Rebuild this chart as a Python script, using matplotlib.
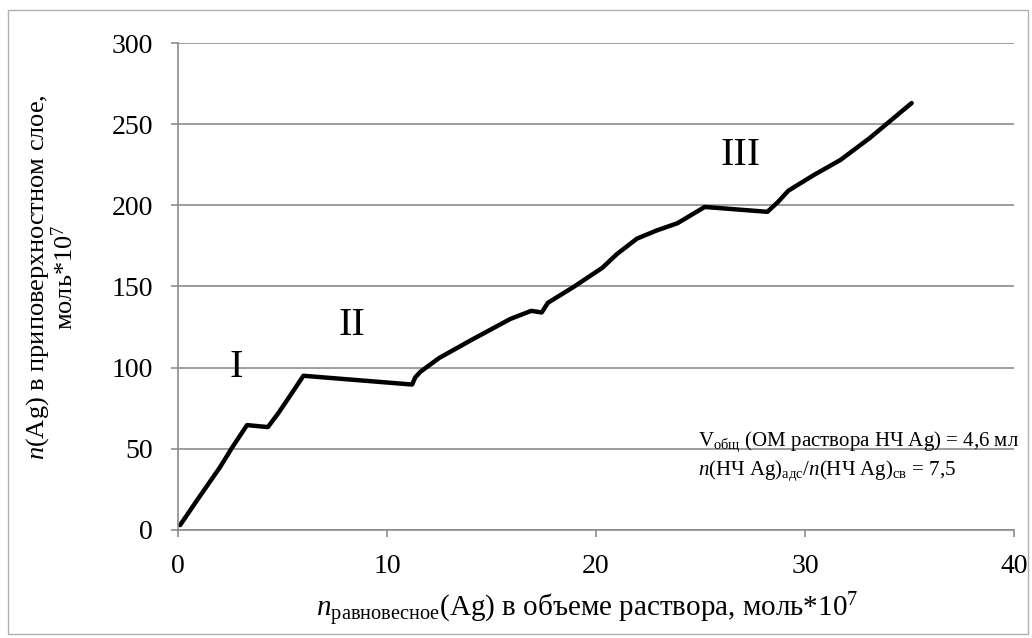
import matplotlib.pyplot as plt
from matplotlib.patches import Rectangle

plt.rcParams['font.family'] = ['Liberation Serif', 'DejaVu Serif']
plt.rcParams['mathtext.fontset'] = 'custom'
plt.rcParams['mathtext.rm'] = 'Liberation Serif'
plt.rcParams['mathtext.it'] = 'Liberation Serif:italic'

# n равновесное (x) и n в приповерхностном слое (y), моль*10^7
n_eq = [0.1, 1.0, 2.0, 2.6, 3.3, 4.3, 4.8, 5.3, 6.0, 11.2, 11.35, 11.6, 12.5, 14.1,
        15.9, 16.9, 17.4, 17.7, 18.9, 20.3, 21.0, 21.96, 22.9, 23.9, 25.2, 28.2,
        28.7, 29.2, 30.4, 31.7, 33.1, 35.1]
n_surf = [3, 20, 38.5, 51, 64.6, 63.4, 72, 81.5, 95, 89.6, 94, 97.5, 106, 117.5,
          130, 135, 134, 140, 149.5, 161.5, 170, 179.5, 184.5, 189, 199, 196,
          202, 209, 218.5, 228, 241.5, 263]

regions = ['I', 'II', 'III']
region_x = [2.8, 8.3, 26.9]
region_y = [100, 126, 231]

fig = plt.figure(figsize=(10.32, 6.38), dpi=100)
ax = fig.add_axes([0.1725, 0.1693, 0.8101, 0.7633])
fig.patches.append(Rectangle((0.008, 0.006), 0.988, 0.978, transform=fig.transFigure,
                             fill=False, edgecolor='#b0b0b0', linewidth=1))

ax.plot(n_eq, n_surf, color='black', linewidth=3.2, solid_capstyle='round',
        solid_joinstyle='round')

for r, x, y in zip(regions, region_x, region_y):
    ax.text(x, y, r, fontsize=29, ha='center', va='center')

ax.text(24.9, 52, r'V$_{\mathrm{общ}}$ (ОМ раствора НЧ Ag) = 4,6 мл', fontsize=15)
ax.text(24.9, 34, r'$n$(НЧ Ag)$_{\mathrm{адс}}$/$n$(НЧ Ag)$_{\mathrm{св}}$ = 7,5', fontsize=15)

ax.set_xlim(0, 40)
ax.set_ylim(0, 300)
ax.set_xticks([0, 10, 20, 30, 40])
ax.set_yticks([0, 50, 100, 150, 200, 250, 300])
ax.grid(axis='y', color='#8c8c8c', linewidth=1.2)
ax.set_axisbelow(True)
for s in ['top', 'right']:
    ax.spines[s].set_visible(False)
for s in ['left', 'bottom']:
    ax.spines[s].set_color('#8c8c8c')
    ax.spines[s].set_linewidth(1.2)
ax.tick_params(axis='both', direction='out', length=5, width=1.2, color='#8c8c8c',
               labelsize=20)
ax.tick_params(axis='y', pad=13)
ax.tick_params(axis='x', pad=12)

ax.set_xlabel(r'$n$$_{\mathrm{равновесное}}$(Ag) в объеме раствора, моль*10$^{7}$',
              fontsize=21)
ax.set_ylabel('$n$(Ag) в приповерхностном слое,\nмоль*10$^{7}$', fontsize=19,
              linespacing=1.0)
ax.xaxis.set_label_coords(0.49, -0.125)
ax.yaxis.set_label_coords(-0.12, 0.52)

fig.savefig('out.png', dpi=100)
